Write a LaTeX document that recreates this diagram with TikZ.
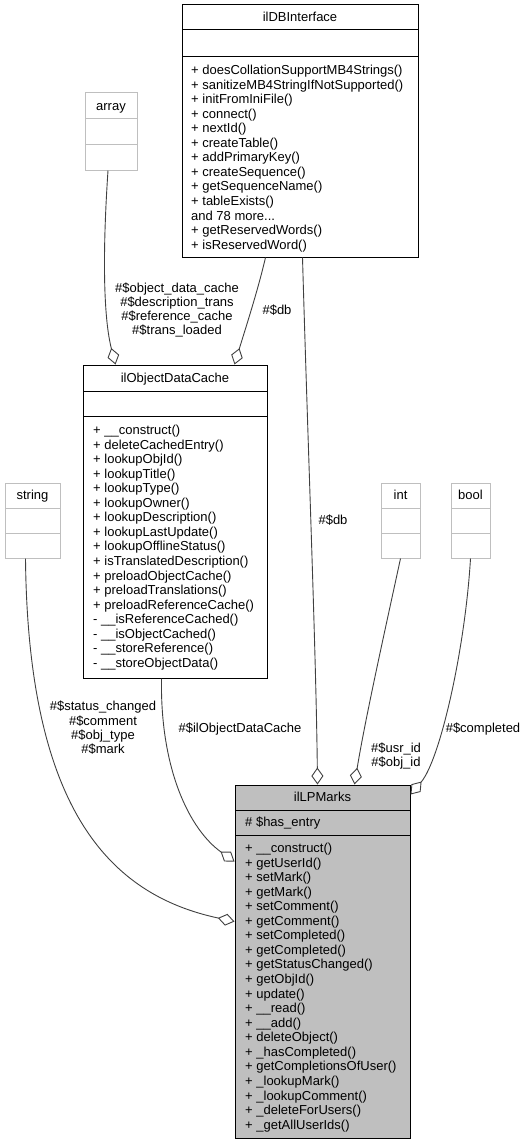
\documentclass[tikz,border=0pt]{standalone}
\usepackage{fontspec}
\setmainfont{Liberation Sans}
\usetikzlibrary{arrows.meta}

\definecolor{edgegray}{HTML}{404040}
\definecolor{typegray}{HTML}{BFBFBF}
\definecolor{markfill}{HTML}{BFBFBF}
\newcommand\moredots{...}

\tikzset{
  classbox/.style={draw=black, line width=1pt, inner sep=0pt},
  typebox/.style={draw=typegray, line width=1pt, inner sep=0pt},
  classtitle/.style={anchor=base, inner sep=0pt, font=\fontsize{13}{14.56}\selectfont},
  member/.style={anchor=base west, inner sep=0pt, font=\fontsize{13}{14.56}\selectfont},
  usage/.style={draw=edgegray, line width=0.9pt,
    -{Diamond[open, fill=white, length=17pt, width=12pt]}},
  edgelabel/.style={align=center, inner sep=0pt, font=\fontsize{13}{14.3}\selectfont}
}

\begin{document}
\begin{tikzpicture}[x=1pt, y=-1pt]
  \useasboundingbox (0,0) rectangle (527,1145);

  % ilDBInterface
  \node[classbox, minimum width=236pt, minimum height=252pt] (dbi) at (300,131) {};
  \node[classtitle] (dbi-title) at (300,21.5) {ilDBInterface};
  \draw[line width=1pt] (182,30) -- (418,30);
  \draw[line width=1pt] (182,57) -- (418,57);
  \foreach \m [count=\i] in {+ doesCollationSupportMB4Strings(), + sanitizeMB4StringIfNotSupported(),
      + initFromIniFile(), + connect(), + nextId(), + createTable(), + addPrimaryKey(),
      + createSequence(), + getSequenceName(), + tableExists(), and 78 more\moredots,
      + getReservedWords(), + isReservedWord()}
    \node[member] (dbi-\i) at (191, {74.5+14.56*(\i-1)}) {\m};

  % array
  \node[typebox, minimum width=52pt, minimum height=77pt] (array) at (111,131.5) {};
  \node[classtitle] (array-title) at (111,110.5) {array};
  \draw[typegray, line width=1pt] (85,119) -- (137,119);
  \draw[typegray, line width=1pt] (85,144) -- (137,144);

  % ilObjectDataCache
  \node[classbox, minimum width=184pt, minimum height=313pt] (odc) at (175,521.5) {};
  \node[classtitle] (odc-title) at (175,382.5) {ilObjectDataCache};
  \draw[line width=1pt] (83,391) -- (267,391);
  \draw[line width=1pt] (83,416) -- (267,416);
  \foreach \m [count=\i] in {+ \_\_construct(), + deleteCachedEntry(), + lookupObjId(),
      + lookupTitle(), + lookupType(), + lookupOwner(), + lookupDescription(),
      + lookupLastUpdate(), + lookupOfflineStatus(), + isTranslatedDescription(),
      + preloadObjectCache(), + preloadTranslations(), + preloadReferenceCache(),
      - \_\_isReferenceCached(), - \_\_isObjectCached(), - \_\_storeReference(),
      - \_\_storeObjectData()}
    \node[member] (odc-\i) at (93, {434.5+14.56*(\i-1)}) {\m};

  % string, int, bool
  \node[typebox, minimum width=55pt, minimum height=75pt] (string) at (32.5,520.5) {};
  \node[classtitle] (string-title) at (32.5,499.5) {string};
  \draw[typegray, line width=1pt] (5,508) -- (60,508);
  \draw[typegray, line width=1pt] (5,533) -- (60,533);

  \node[typebox, minimum width=39pt, minimum height=75pt] (int) at (400.5,520.5) {};
  \node[classtitle] (int-title) at (400.5,499.5) {int};
  \draw[typegray, line width=1pt] (381,508) -- (420,508);
  \draw[typegray, line width=1pt] (381,533) -- (420,533);

  \node[typebox, minimum width=39pt, minimum height=75pt] (bool) at (470.5,520.5) {};
  \node[classtitle] (bool-title) at (470.5,499.5) {bool};
  \draw[typegray, line width=1pt] (451,508) -- (490,508);
  \draw[typegray, line width=1pt] (451,533) -- (490,533);

  % ilLPMarks
  \node[classbox, fill=markfill, minimum width=175pt, minimum height=353pt] (lpm) at (322.5,961.5) {};
  \node[classtitle] (lpm-title) at (322.5,801.5) {ilLPMarks};
  \draw[line width=1pt] (235,810) -- (410,810);
  \draw[line width=1pt] (235,835) -- (410,835);
  \node[member] (lpm-attr) at (245,826.5) {\# \$has\_entry};
  \foreach \m [count=\i] in {+ \_\_construct(), + getUserId(), + setMark(), + getMark(),
      + setComment(), + getComment(), + setCompleted(), + getCompleted(),
      + getStatusChanged(), + getObjId(), + update(), + \_\_read(), + \_\_add(),
      + deleteObject(), + \_hasCompleted(), + getCompletionsOfUser(), + \_lookupMark(),
      + \_lookupComment(), + \_deleteForUsers(), + \_getAllUserIds()}
    \node[member] (lpm-\i) at (245, {852.5+14.56*(\i-1)}) {\m};

  % usage edges
  \draw[usage] ([xshift=-3pt]array.south) .. controls (102,260) and (104,320) .. ([xshift=33pt]odc.north west);
  \draw[usage] ([xshift=84pt]dbi.south west) .. controls (258,290) and (245,330) .. ([xshift=-33pt]odc.north east);
  \draw[usage] ([xshift=121pt]dbi.south west) .. controls (308,450) and (316,650) .. ([xshift=83pt]lpm.north west);
  \draw[usage] (int.south) .. controls (385,630) and (365,720) .. ([xshift=120pt]lpm.north west);
  \draw[usage] (bool.south) .. controls (465,650) and (440,760) .. ([yshift=-10pt]lpm.north east);
  \draw[usage] ([xshift=79pt]odc.south west) .. controls (160,770) and (190,830) .. ([yshift=-77pt]lpm.north west);
  \draw[usage] ([xshift=-7pt]string.south) .. controls (28,810) and (110,895) .. ([yshift=-137pt]lpm.north west);

  % edge labels
  \node[edgelabel] (lbl-cache) at (177,310) {\#\$object\_data\_cache\\\#\$description\_trans\\\#\$reference\_cache\\\#\$trans\_loaded};
  \node[edgelabel] (lbl-db1) at (277,310) {\#\$db};
  \node[edgelabel] (lbl-db2) at (333,520) {\#\$db};
  \node[edgelabel] (lbl-ids) at (396,756) {\#\$usr\_id\\\#\$obj\_id};
  \node[edgelabel] (lbl-done) at (483,729) {\#\$completed};
  \node[edgelabel] (lbl-odc) at (240,729) {\#\$ilObjectDataCache};
  \node[edgelabel] (lbl-str) at (103,728) {\#\$status\_changed\\\#\$comment\\\#\$obj\_type\\\#\$mark};
\end{tikzpicture}
\end{document}
